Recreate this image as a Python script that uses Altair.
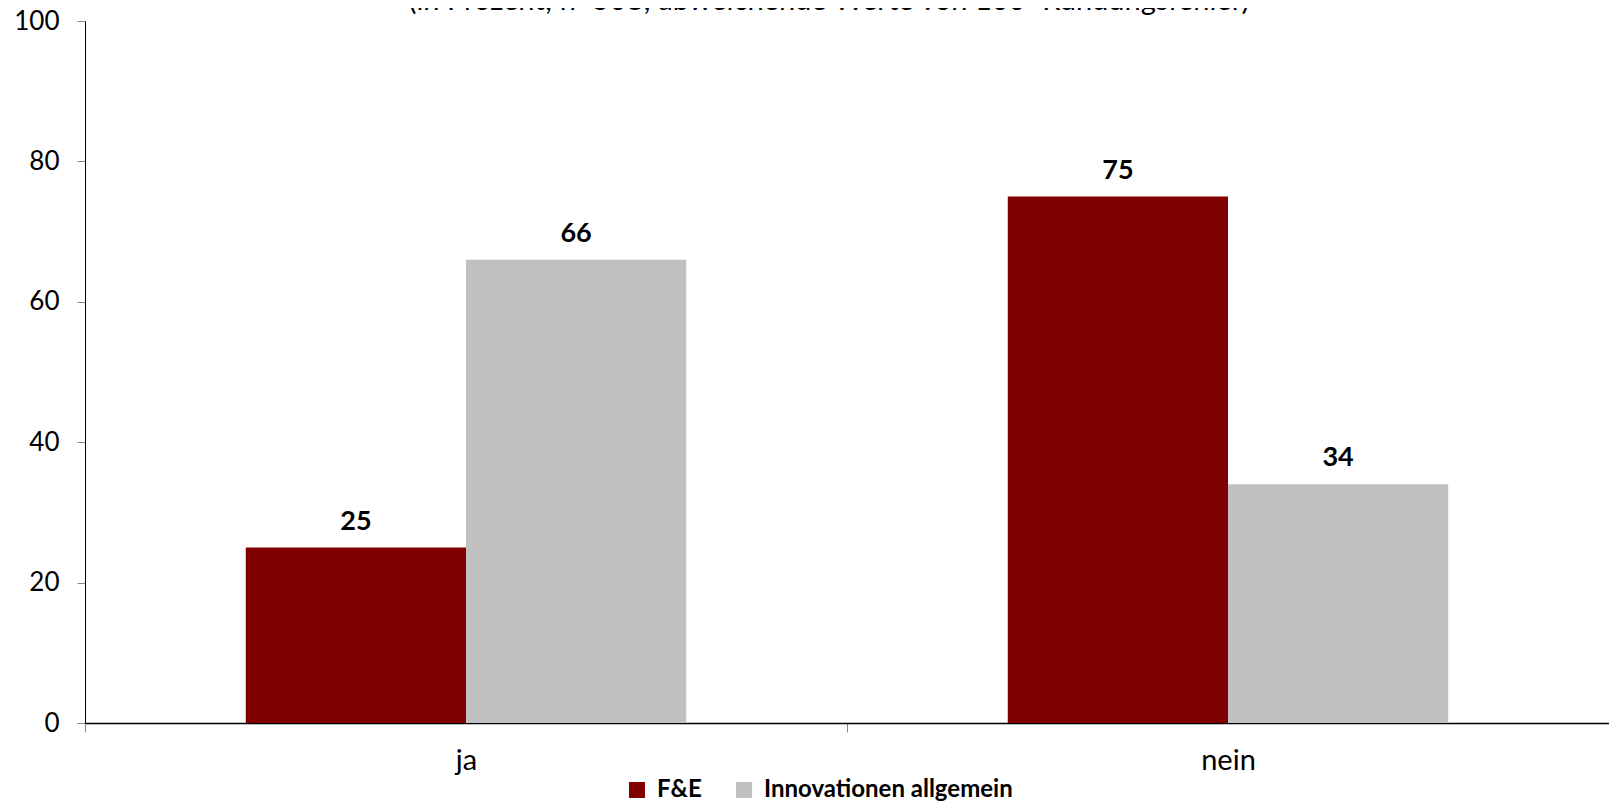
import altair as alt
import pandas as pd

categories = ["ja", "nein"]
series = ["F&E", "Innovationen allgemein"]
fe_values = [25, 75]
innov_values = [66, 34]
colors = ["#800000", "#C0C0C0"]
subtitle = "(in Prozent; n=508; abweichende Werte von 100=Rundungsfehler)"
y_ticks = [0, 20, 40, 60, 80, 100]

rows = []
for i, c in enumerate(categories):
    rows.append({"Kategorie": c, "Reihe": series[0], "Wert": fe_values[i]})
    rows.append({"Kategorie": c, "Reihe": series[1], "Wert": innov_values[i]})
df = pd.DataFrame(rows)

FONT = "Lato"

x_enc = alt.X(
    "Kategorie:N",
    sort=categories,
    scale=alt.Scale(paddingInner=0, paddingOuter=0),
    axis=alt.Axis(
        title=None,
        labelAngle=0,
        labelFontSize=29,
        labelFont=FONT,
        labelColor="black",
        labelPadding=14,
        tickBand="extent",
        tickSize=9,
        tickColor="#888888",
        domainColor="black",
        domainWidth=1.5,
    ),
)
xoff = alt.XOffset("Reihe:N", sort=series, scale=alt.Scale(paddingInner=0, paddingOuter=0.73))
y_enc = alt.Y(
    "Wert:Q",
    scale=alt.Scale(domain=[0, 100], nice=False),
    axis=alt.Axis(
        title=None,
        values=y_ticks,
        labelFontSize=26,
        labelFont=FONT,
        labelColor="black",
        labelPadding=18,
        tickSize=8,
        tickColor="#888888",
        domainColor="black",
        domainWidth=1,
        grid=False,
    ),
)

bars = alt.Chart(df).mark_bar().encode(
    x=x_enc,
    xOffset=xoff,
    y=y_enc,
    color=alt.Color(
        "Reihe:N",
        sort=series,
        scale=alt.Scale(domain=series, range=colors),
        legend=alt.Legend(
            title=None,
            orient="none",
            direction="horizontal",
            legendX=540,
            legendY=757,
            symbolType="square",
            symbolSize=256,
            symbolStrokeWidth=0,
            labelFont=FONT,
            labelFontSize=24,
            labelFontWeight="bold",
            labelColor="black",
            labelOffset=8,
            labelLimit=0,
            columnPadding=30,
        ),
    ),
)

labels = alt.Chart(df).mark_text(
    font=FONT, fontSize=27, fontWeight="bold", color="black", dy=-18, baseline="alphabetic"
).encode(
    x=alt.X("Kategorie:N", sort=categories),
    xOffset=alt.XOffset("Reihe:N", sort=series),
    y="Wert:Q",
    text="Wert:Q",
)

title_df = pd.DataFrame({"t": [subtitle]})
title = alt.Chart(title_df).mark_text(
    font=FONT, fontSize=29, color="black", baseline="alphabetic", align="center"
).encode(
    x=alt.value(744),
    y=alt.value(-11),
    text="t:N",
)

chart = alt.layer(bars, labels, title).properties(
    width=1524,
    height=702,
    autosize=alt.AutoSizeParams(type="none"),
    padding={"left": 77, "top": 13, "right": 0, "bottom": 82},
).configure_view(stroke=None)

chart.save("out.html", embed_options={"renderer": "svg", "actions": False})
